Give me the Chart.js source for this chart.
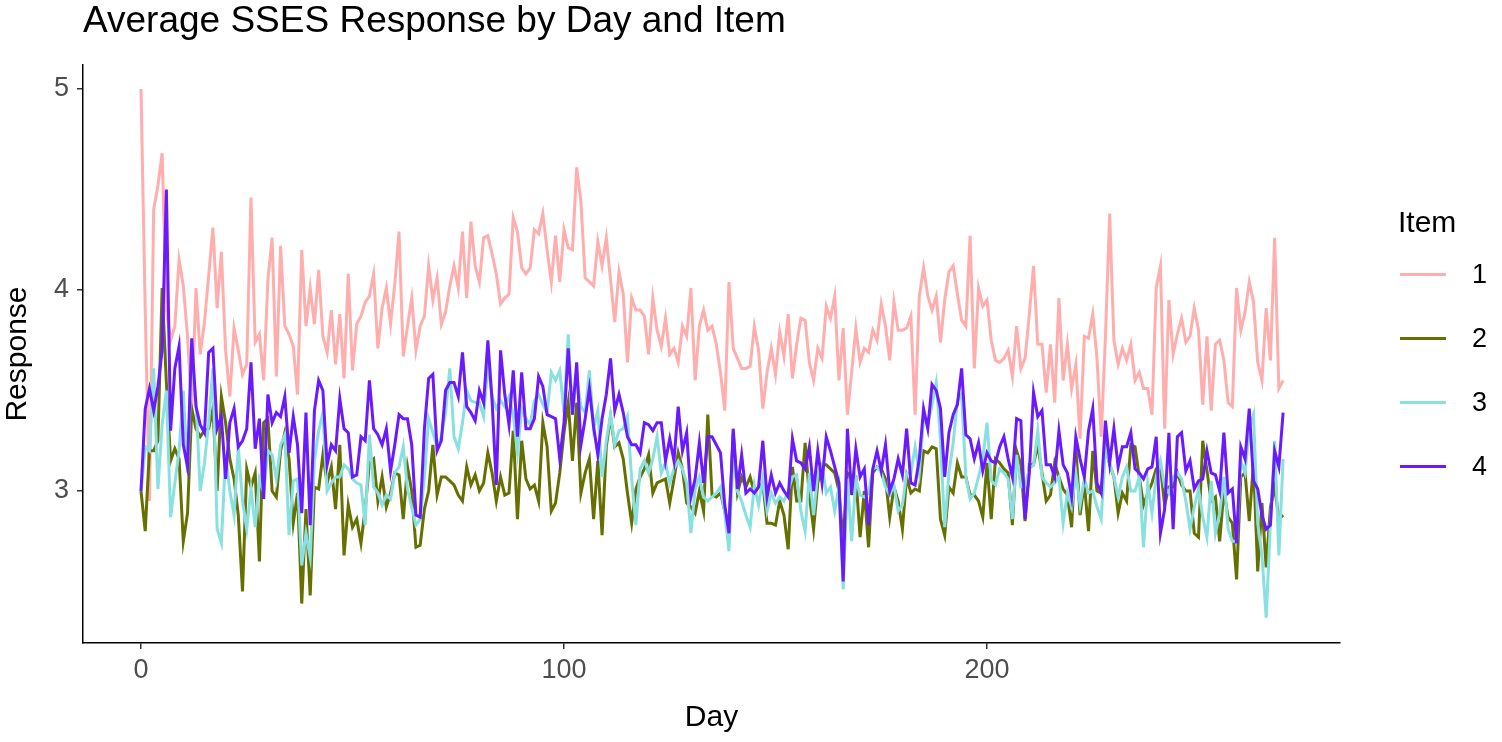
<!DOCTYPE html>
<html>
<head>
<meta charset="utf-8">
<script src="https://cdn.jsdelivr.net/npm/chart.js@4/dist/chart.umd.min.js"></script>
<style>
  html, body { margin: 0; padding: 0; background: #fff; }
  #wrap { position: relative; width: 1502px; height: 742px; font-family: "Liberation Sans", Arial, sans-serif; }
  #title { position: absolute; left: 83px; top: 0; line-height: 40px; font-size: 37px; color: #000; white-space: nowrap; }
  #legend { position: absolute; left: 1398px; top: 200px; color: #000; }
  #legend .head { font-size: 30px; line-height: 44px; }
  #legend .row { position: relative; height: 64px; }
  #legend .key { position: absolute; left: 2px; top: 29px; width: 46px; height: 3px; }
  #legend .lab { position: absolute; left: 74px; top: 14px; font-size: 27px; line-height: 32px; }
</style>
</head>
<body>
<div id="wrap">
  <canvas id="chart" width="1502" height="742"></canvas>
  <div id="title">Average SSES Response by Day and Item</div>
  <div id="legend"></div>
</div>
<script>
// Average response per day, one array per item (days 0..270)
const item1 = [
  5.00, 3.90, 2.95, 4.40, 4.52, 4.68, 3.90, 3.75, 3.82, 4.15,
  4.02, 3.77, 3.40, 4.01, 3.68, 3.84, 4.07, 4.31, 3.91, 4.19,
  3.70, 3.47, 3.81, 3.70, 3.58, 3.63, 4.46, 3.74, 3.78, 3.55,
  4.05, 4.26, 3.57, 4.22, 3.82, 3.78, 3.72, 3.48, 4.20, 3.82,
  4.01, 3.83, 4.10, 3.77, 3.69, 3.90, 3.63, 3.88, 3.56, 4.08,
  3.60, 3.83, 3.87, 3.94, 3.97, 4.08, 3.71, 3.91, 4.01, 3.83,
  4.03, 4.29, 3.67, 3.82, 3.96, 3.70, 3.82, 3.87, 4.12, 3.95,
  4.06, 3.83, 3.89, 4.02, 4.12, 4.01, 4.29, 3.96, 4.34, 4.12,
  4.04, 4.26, 4.27, 4.18, 4.08, 3.93, 3.96, 3.98, 4.36, 4.29,
  4.11, 4.08, 4.11, 4.30, 4.28, 4.38, 4.20, 4.04, 4.27, 4.04,
  4.30, 4.21, 4.20, 4.61, 4.44, 4.06, 4.04, 4.02, 4.24, 4.12,
  4.26, 4.05, 3.84, 4.09, 3.98, 3.64, 3.96, 3.90, 3.90, 3.87,
  3.68, 3.96, 3.80, 3.72, 3.86, 3.68, 3.71, 3.64, 3.82, 3.77,
  4.01, 3.55, 3.82, 3.90, 3.80, 3.82, 3.73, 3.59, 3.40, 4.04,
  3.71, 3.66, 3.61, 3.61, 3.62, 3.82, 3.70, 3.41, 3.59, 3.71,
  3.58, 3.79, 3.67, 3.88, 3.56, 3.73, 3.86, 3.85, 3.64, 3.55,
  3.71, 3.66, 3.92, 3.86, 3.97, 3.55, 3.81, 3.38, 3.59, 3.81,
  3.64, 3.71, 3.69, 3.80, 3.75, 3.93, 3.82, 3.65, 3.94, 3.80,
  3.80, 3.81, 3.87, 3.38, 3.97, 4.11, 3.97, 3.90, 3.97, 3.74,
  3.95, 4.09, 4.12, 3.98, 3.85, 3.82, 4.27, 3.61, 4.01, 3.92,
  3.95, 3.75, 3.65, 3.64, 3.66, 3.70, 3.57, 3.82, 3.61, 3.66,
  3.88, 4.12, 3.73, 3.73, 3.49, 3.73, 3.44, 3.96, 3.55, 3.73,
  3.51, 3.63, 3.26, 3.77, 3.76, 3.88, 3.66, 3.27, 3.77, 4.38,
  3.75, 3.63, 3.71, 3.65, 3.73, 3.55, 3.59, 3.51, 3.51, 3.38,
  4.01, 4.12, 3.31, 3.95, 3.68, 3.78, 3.86, 3.74, 3.77, 3.91,
  3.80, 3.43, 3.77, 3.40, 3.73, 3.75, 3.65, 3.44, 3.42, 4.01,
  3.80, 3.89, 4.04, 3.94, 3.64, 3.55, 3.91, 3.65, 4.26, 3.51,
  3.55
];
const item2 = [
  3.00, 2.80, 3.20, 3.20, 3.25, 4.01, 3.54, 3.15, 3.21, 3.16,
  2.75, 2.89, 3.41, 3.31, 3.27, 3.30, 3.31, 3.41, 3.00, 3.47,
  3.34, 3.16, 3.06, 2.88, 2.50, 3.11, 3.02, 3.09, 2.65, 3.34,
  3.36, 3.00, 2.97, 3.20, 3.29, 3.16, 2.84, 2.99, 2.44, 2.91,
  2.48, 3.02, 3.01, 3.18, 3.04, 3.12, 2.91, 3.23, 2.68, 2.93,
  2.82, 2.86, 2.74, 2.91, 3.14, 3.16, 2.95, 3.07, 2.92, 2.99,
  3.09, 3.08, 2.86, 3.12, 3.00, 2.72, 2.73, 2.91, 3.00, 3.23,
  2.98, 3.07, 3.07, 3.05, 3.03, 2.98, 2.95, 3.12, 3.03, 3.08,
  3.00, 3.04, 3.19, 3.09, 2.95, 3.07, 2.98, 2.99, 3.30, 2.86,
  3.25, 3.06, 3.01, 3.03, 2.95, 3.34, 3.22, 2.90, 2.94, 3.09,
  3.29, 3.44, 3.15, 3.44, 2.99, 3.09, 3.16, 2.86, 3.15, 2.78,
  3.22, 3.37, 3.22, 3.24, 3.16, 2.99, 2.84, 3.01, 3.07, 3.11,
  3.18, 2.99, 3.04, 3.05, 3.06, 2.94, 3.06, 3.19, 3.11, 2.94,
  2.92, 2.89, 3.00, 2.90, 3.38, 2.98, 2.97, 2.99, 2.90, 2.83,
  3.29, 2.99, 3.07, 3.02, 3.07, 2.99, 3.02, 3.04, 2.84, 2.84,
  2.83, 2.95, 2.88, 2.71, 3.12, 2.95, 2.95, 3.24, 2.98, 2.81,
  3.04, 3.13, 3.13, 3.11, 3.09, 3.00, 2.75, 3.09, 3.07, 3.07,
  2.77, 3.00, 2.72, 3.09, 3.12, 3.11, 3.06, 2.87, 3.02, 2.95,
  2.81, 3.07, 2.99, 3.01, 3.00, 3.20, 3.19, 3.22, 3.21, 2.86,
  2.78, 3.02, 2.99, 3.14, 3.07, 3.07, 2.98, 2.98, 2.95, 2.87,
  3.14, 2.86, 3.16, 3.14, 3.11, 3.09, 2.83, 3.20, 3.13, 2.85,
  3.13, 3.13, 3.23, 3.09, 2.95, 2.98, 3.14, 3.07, 3.01, 2.98,
  2.82, 3.22, 2.88, 3.04, 2.80, 3.20, 3.00, 2.99, 3.23, 3.13,
  3.07, 2.89, 2.99, 2.95, 3.23, 3.22, 3.07, 2.93, 2.99, 3.04,
  3.11, 3.12, 2.93, 3.02, 3.02, 3.09, 3.03, 3.00, 3.00, 2.79,
  2.77, 3.25, 3.10, 2.95, 2.97, 2.75, 3.00, 2.87, 2.84, 2.56,
  3.07, 3.09, 2.85, 3.14, 2.60, 2.94, 2.62, 2.92, 3.02, 2.86,
  2.88
];
const item3 = [
  3.00, 3.22, 3.20, 3.61, 3.01, 3.33, 3.50, 2.87, 3.04, 3.20,
  3.50, 3.09, 3.67, 3.45, 3.00, 3.14, 3.34, 3.61, 2.81, 2.74,
  3.18, 3.00, 2.88, 3.22, 2.95, 2.81, 3.01, 2.82, 3.06, 2.99,
  3.20, 3.18, 3.06, 3.23, 3.28, 2.78, 3.05, 3.06, 2.63, 2.79,
  2.67, 3.15, 3.30, 3.39, 3.00, 3.04, 3.07, 3.07, 3.13, 3.11,
  3.06, 3.04, 3.03, 2.83, 3.28, 3.02, 2.99, 2.93, 2.98, 2.96,
  3.09, 3.12, 3.22, 3.01, 2.92, 2.83, 2.86, 3.07, 3.36, 3.29,
  3.22, 3.27, 3.39, 3.61, 3.27, 3.21, 3.34, 3.50, 3.45, 3.44,
  3.44, 3.37, 3.63, 3.47, 3.41, 3.45, 3.42, 3.47, 3.38, 3.19,
  3.41, 3.36, 3.33, 3.45, 3.48, 3.43, 3.39, 3.59, 3.55, 3.60,
  3.39, 3.78, 3.38, 3.57, 3.42, 3.39, 3.60, 3.31, 3.40, 3.07,
  3.25, 3.38, 3.23, 3.30, 3.31, 3.37, 3.06, 2.83, 3.11, 3.15,
  3.09, 3.16, 3.27, 3.09, 3.14, 3.04, 3.11, 3.15, 3.11, 3.04,
  2.79, 3.01, 3.07, 2.97, 2.95, 2.97, 2.99, 3.02, 2.89, 2.70,
  3.20, 3.00, 2.95, 2.88, 2.82, 3.03, 2.93, 3.06, 2.90, 2.99,
  2.94, 2.97, 2.95, 3.00, 3.07, 3.08, 2.90, 2.80, 3.09, 2.88,
  3.09, 3.13, 2.99, 3.02, 2.90, 3.02, 2.51, 3.06, 2.75, 3.06,
  2.98, 2.97, 2.99, 3.11, 3.12, 3.09, 3.02, 2.98, 3.03, 2.90,
  2.93, 3.09, 3.09, 3.22, 3.09, 3.36, 3.33, 3.43, 3.54, 3.25,
  2.82, 3.09, 3.24, 3.45, 3.48, 3.07, 2.96, 2.99, 3.07, 3.16,
  3.34, 3.05, 3.03, 3.11, 3.09, 3.06, 2.86, 3.18, 3.02, 3.02,
  3.11, 3.13, 3.30, 3.07, 3.04, 3.02, 3.04, 3.07, 2.84, 2.99,
  2.92, 3.09, 2.93, 3.06, 2.99, 3.00, 2.92, 2.86, 3.21, 3.14,
  3.07, 2.97, 3.07, 3.12, 3.00, 3.00, 3.07, 2.72, 3.04, 2.89,
  3.07, 3.15, 3.02, 2.99, 3.07, 3.09, 3.06, 2.95, 2.81, 2.92,
  3.01, 2.87, 2.77, 3.05, 2.79, 2.89, 3.07, 2.81, 2.75, 2.75,
  3.15, 3.09, 3.31, 3.38, 2.84, 2.68, 2.37, 2.84, 3.25, 2.68,
  3.16
];
const item4 = [
  3.00, 3.41, 3.51, 3.40, 3.52, 3.70, 4.50, 3.30, 3.61, 3.72,
  3.23, 3.12, 3.76, 3.42, 3.33, 3.29, 3.69, 3.71, 3.31, 3.37,
  3.06, 3.34, 3.41, 3.22, 3.25, 3.31, 3.64, 3.21, 3.36, 2.96,
  3.48, 3.34, 3.39, 3.37, 3.47, 3.19, 3.37, 3.23, 2.89, 3.39,
  2.83, 3.40, 3.55, 3.50, 3.13, 3.23, 3.20, 3.46, 3.31, 3.29,
  3.07, 3.08, 3.27, 3.25, 3.55, 3.31, 3.28, 3.23, 3.31, 3.10,
  3.23, 3.38, 3.36, 3.36, 3.23, 2.88, 2.87, 3.31, 3.56, 3.58,
  3.20, 3.25, 3.50, 3.54, 3.54, 3.47, 3.69, 3.42, 3.39, 3.35,
  3.50, 3.44, 3.75, 3.45, 3.03, 3.70, 3.48, 3.33, 3.60, 3.27,
  3.59, 3.31, 3.31, 3.36, 3.57, 3.52, 3.38, 3.37, 3.36, 3.16,
  3.34, 3.71, 3.38, 3.64, 3.23, 3.36, 3.51, 3.32, 3.18, 3.36,
  3.48, 3.66, 3.40, 3.48, 3.39, 3.27, 3.23, 3.23, 3.19, 3.34,
  3.33, 3.30, 3.34, 3.34, 3.15, 3.26, 3.15, 3.42, 3.20, 3.29,
  2.97, 3.06, 3.24, 3.04, 3.27, 3.27, 3.23, 3.19, 2.93, 2.79,
  3.31, 3.01, 3.18, 2.99, 3.01, 2.99, 3.02, 3.25, 2.97, 3.08,
  2.99, 3.04, 3.00, 2.97, 3.26, 3.15, 3.14, 3.11, 3.22, 3.00,
  3.20, 3.04, 3.27, 3.20, 3.12, 3.04, 2.55, 3.31, 2.98, 3.21,
  3.07, 3.11, 2.83, 3.11, 3.20, 3.10, 3.23, 3.00, 3.06, 3.16,
  3.08, 3.31, 3.04, 3.03, 3.16, 3.41, 3.31, 3.53, 3.50, 3.41,
  3.07, 3.29, 3.38, 3.43, 3.61, 3.28, 3.26, 3.16, 3.24, 3.10,
  3.19, 3.15, 3.14, 3.22, 3.27, 3.16, 3.07, 3.36, 3.35, 2.86,
  3.09, 3.49, 3.37, 3.40, 3.13, 3.13, 3.07, 3.30, 3.13, 3.09,
  2.97, 3.27, 3.16, 3.07, 3.30, 3.41, 3.04, 2.99, 3.35, 3.14,
  3.31, 3.12, 3.22, 3.22, 3.29, 3.11, 3.09, 3.06, 3.11, 3.12,
  3.27, 2.79, 2.91, 3.29, 2.81, 3.27, 3.29, 3.10, 3.15, 3.01,
  3.05, 3.06, 3.20, 3.09, 3.08, 3.00, 3.29, 2.99, 3.01, 2.74,
  3.22, 3.16, 3.41, 3.05, 3.01, 2.88, 2.81, 2.83, 3.20, 3.12,
  3.39
];
const days = item1.map((_, i) => i);

const itemNames = ['1', '2', '3', '4'];
const itemColors = ['#FFADAD', '#667000', '#88E0E0', '#6A1AFF'];
const xTicks = [0, 100, 200];
const yTicks = [3, 4, 5];

const series = [item1, item2, item3, item4];

// legend drawn as html, same look as ggplot keys
const legend = document.getElementById('legend');
legend.innerHTML = '<div class="head">Item</div>' + itemNames.map((n, i) =>
  `<div class="row"><div class="key" style="background:${itemColors[i]}"></div><div class="lab">${n}</div></div>`
).join('');

const tickFont = { family: '"Liberation Sans", Arial, sans-serif', size: 27 };
const titleFont = { family: '"Liberation Sans", Arial, sans-serif', size: 30 };

new Chart(document.getElementById('chart'), {
  type: 'line',
  data: {
    datasets: series.map((vals, i) => ({
      label: itemNames[i],
      data: vals.map((v, j) => ({ x: days[j], y: v })),
      borderColor: itemColors[i],
      borderWidth: 3,
      pointRadius: 0,
      tension: 0,
      order: 4 - i   // item 4 ends up on top, like ggplot
    }))
  },
  options: {
    responsive: false,
    animation: false,
    devicePixelRatio: 1,
    layout: { padding: { left: 0, top: 65, right: 162, bottom: 0 } },
    plugins: { legend: { display: false }, tooltip: { enabled: false } },
    scales: {
      x: {
        type: 'linear',
        min: -13.71,
        max: 283.45,
        afterBuildTicks: s => { s.ticks = xTicks.map(v => ({ value: v })); },
        afterFit: s => { s.height = 99; },
        border: { display: true, color: '#000', width: 1.5 },
        grid: { drawOnChartArea: false, drawTicks: true, tickLength: 6, color: '#333', lineWidth: 1.5 },
        ticks: { font: tickFont, color: '#4d4d4d', padding: 5, maxRotation: 0 },
        title: { display: true, text: 'Day', font: titleFont, color: '#000', padding: { top: 0, bottom: 6 } }
      },
      y: {
        type: 'linear',
        min: 2.2438,
        max: 5.1194,
        afterBuildTicks: s => { s.ticks = yTicks.map(v => ({ value: v })); },
        afterFit: s => { s.width = 83; },
        border: { display: true, color: '#000', width: 1.5 },
        grid: { drawOnChartArea: false, drawTicks: true, tickLength: 6, color: '#333', lineWidth: 1.5 },
        ticks: { font: tickFont, color: '#4d4d4d', padding: 8 },
        title: { display: true, text: 'Response', font: titleFont, color: '#000', padding: { top: 0, bottom: 0 } }
      }
    }
  }
});
</script>
</body>
</html>
